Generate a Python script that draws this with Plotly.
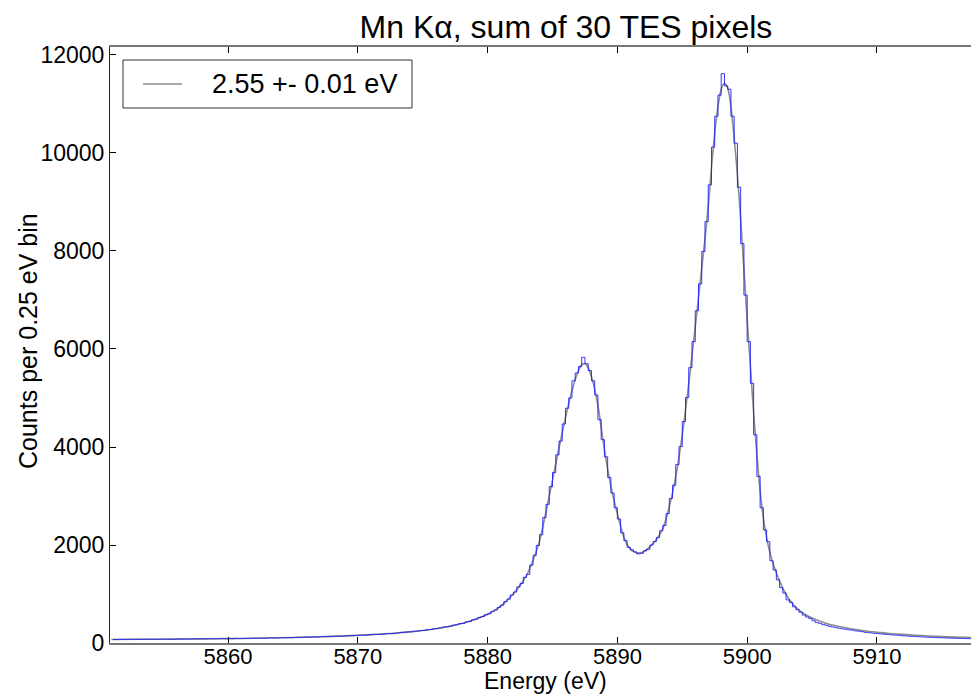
import plotly.graph_objects as go

# ---- data ----
bin_start = 5851.0   # left edge of first 0.25 eV bin
bin_width = 0.25
hist_counts = [
    74, 71, 76, 73,   72, 77, 75, 73,   78, 74, 76, 79,   75, 79, 77, 80,      # 5851-5854
    81, 78, 80, 77,   83, 80, 84, 81,   82, 86, 84, 83,   87, 84, 88, 86,      # 5855-5858
    86, 90, 89, 87,   92, 89, 94, 91,   93, 96, 94, 98,   99, 96, 101, 98,     # 5859-5862
    102, 105, 101, 106, 108, 105, 110, 107, 112, 116, 114, 118, 121, 119, 124, 120,  # 5863-5866
    127, 132, 129, 134, 136, 140, 137, 142, 145, 150, 148, 153, 157, 162, 160, 166,  # 5867-5870
    171, 176, 174, 180, 187, 193, 190, 198, 206, 216, 218, 227, 229, 240, 243, 255,  # 5871-5874
    257, 272, 275, 290, 295, 308, 325, 330, 342, 365, 372, 395, 400, 428, 440, 470,  # 5875-5878
    485, 522, 540, 578, 595, 645, 672, 728, 772, 845, 895, 980, 1040, 1145, 1215, 1340,  # 5879-5882
    1400, 1590, 1790, 1990, 2210, 2560, 2830, 3190, 3480, 3840, 4120, 4470, 4790, 5000, 5350, 5510,  # 5883-5886
    5640, 5830, 5700, 5560, 5350, 5060, 4560, 4150, 3800, 3380, 3060, 2760, 2530, 2250, 2090, 1950,  # 5887-5890
    1900, 1860, 1820, 1830, 1880, 1910, 2000, 2070, 2150, 2290, 2400, 2640, 2950, 3220, 3640, 4010,  # 5891-5894
    4520, 5010, 5620, 6150, 6780, 7330, 7990, 8600, 9350, 10120, 10750, 11180, 11620, 11370, 11300, 10750,  # 5895-5898
    10200, 9300, 8150, 7100, 6150, 5300, 4250, 3400, 2760, 2310, 2070, 1680, 1490, 1290, 1130, 1020,  # 5899-5902
    880, 830, 740, 680, 625, 570, 530, 500, 455, 420, 400, 375, 362, 340, 326, 312,  # 5903-5906
    300, 288, 279, 268, 262, 248, 240, 231, 218, 210, 204, 196, 190, 185, 178, 172,  # 5907-5910
    166, 162, 158, 152, 146, 142, 137, 133, 129, 126, 122, 119, 116, 113, 111, 108,  # 5911-5914
    105, 103, 100, 98, 96, 94, 92, 90, 89, 87,                                       # 5915-5917
]
bin_centers = [bin_start + bin_width * (i + 0.5) for i in range(len(hist_counts))]

fit_energy = [
    5851, 5853, 5855, 5857, 5859, 5861, 5863, 5865, 5867, 5869,
    5870, 5871, 5872, 5873, 5874, 5875, 5876, 5877, 5878, 5879,
    5880, 5880.5, 5881, 5881.5, 5882, 5882.5, 5883, 5883.5, 5884, 5884.5,
    5885, 5885.5, 5886, 5886.5, 5887, 5887.25, 5887.5, 5887.75, 5888, 5888.25,
    5888.5, 5888.75, 5889, 5889.25, 5889.5, 5889.75, 5890, 5890.25, 5890.5, 5890.75,
    5891, 5891.25, 5891.5, 5891.75, 5892, 5892.5, 5893, 5893.5, 5894, 5894.5,
    5895, 5895.5, 5896, 5896.5, 5896.75, 5897, 5897.25, 5897.5, 5897.75, 5898,
    5898.25, 5898.5, 5898.75, 5899, 5899.25, 5899.5, 5899.75, 5900, 5900.25, 5900.5,
    5900.75, 5901, 5901.25, 5901.5, 5901.75, 5902, 5902.5, 5903, 5903.5, 5904,
    5904.5, 5905, 5906, 5907, 5908, 5909, 5910, 5911, 5912, 5913,
    5914, 5915, 5916, 5917, 5917.5,
]
fit_counts = [
    72, 75, 78, 82, 86, 92, 101, 112, 127, 146,
    158, 170, 186, 205, 228, 256, 292, 338, 398, 478,
    585, 660, 750, 870, 1010, 1180, 1380, 1690, 2080, 2680,
    3330, 3980, 4600, 5150, 5560, 5680, 5700, 5620, 5440, 5180,
    4850, 4400, 3950, 3550, 3200, 2900, 2640, 2380, 2160, 2010,
    1920, 1865, 1840, 1840, 1860, 1960, 2110, 2330, 2780, 3400,
    4250, 5300, 6450, 7650, 8250, 8900, 9700, 10400, 10950, 11300,
    11420, 11330, 10950, 10300, 9550, 8650, 7650, 6600, 5650, 4700,
    3850, 3100, 2550, 2150, 1850, 1620, 1260, 990, 800, 670,
    580, 510, 410, 340, 290, 250, 220, 195, 175, 158,
    143, 130, 120, 114, 111,
]
fit_label = "2.55 +- 0.01 eV"
title_text = "Mn Kα, sum of 30 TES pixels"
x_title = "Energy (eV)"
y_title = "Counts per 0.25 eV bin"
x_ticks = [5860, 5870, 5880, 5890, 5900, 5910]
y_ticks = [0, 2000, 4000, 6000, 8000, 10000, 12000]
y_ticktext = ["0", "2000", "4000", "6000", "8000", "10000", "12000"]

FONT = "Liberation Sans, Arial, Helvetica, sans-serif"
FIT_COLOR = "rgb(140,140,140)"

fig = go.Figure()
fig.add_trace(go.Scatter(
    x=fit_energy, y=fit_counts, mode="lines", line_shape="spline",
    line=dict(color=FIT_COLOR, width=1.6, smoothing=0.8),
    name=fit_label, showlegend=False,
))
fig.add_trace(go.Scatter(
    x=bin_centers, y=hist_counts, mode="lines", line_shape="hvh",
    line=dict(color="rgba(20,20,255,0.85)", width=1), showlegend=False,
))

# plot area in pixels: x 110..971, y 47..643
def px(x):
    return (x - 110) / 861.0

def py(y):
    return (643 - y) / 596.0

shapes = [
    # legend box
    dict(type="rect", xref="paper", yref="paper", x0=px(123), x1=px(412),
         y0=py(108), y1=py(60), line=dict(color="#333", width=1), fillcolor="white",
         layer="above"),
    # legend line sample
    dict(type="line", xref="paper", yref="paper", x0=px(143), x1=px(182),
         y0=py(84), y1=py(84), line=dict(color=FIT_COLOR, width=1.6), layer="above"),
]
annotations = [
    dict(text=fit_label, xref="paper", yref="paper", x=px(210), y=py(84),
         xanchor="left", yanchor="middle", showarrow=False,
         font=dict(size=27, family=FONT, color="black")),
    dict(text=x_title, xref="paper", yref="paper", x=px(545), y=py(681),
         xanchor="center", yanchor="middle", showarrow=False,
         font=dict(size=23, family=FONT, color="black")),
    dict(text=y_title, xref="paper", yref="paper", x=px(28), y=py(341),
         xanchor="center", yanchor="middle", showarrow=False, textangle=-90,
         font=dict(size=25, family=FONT, color="black")),
]

fig.update_layout(
    width=971, height=696,
    margin=dict(l=110, r=0, t=47, b=53),
    paper_bgcolor="white", plot_bgcolor="white",
    font=dict(family=FONT, color="black", size=23),
    title=dict(text=title_text, x=0.5296, xanchor="center",
               xref="paper", y=0.962, yanchor="middle",
               font=dict(size=32, family=FONT, color="black")),
    showlegend=False,
    shapes=shapes,
    annotations=annotations,
    xaxis=dict(range=[5850.9, 5917.25], tickvals=x_ticks, ticks="inside",
               ticklen=6, tickcolor="black", showline=True, linecolor="#777",
               linewidth=2, mirror="ticks", showgrid=False, zeroline=False,
               tickfont=dict(size=22), ticklabelstandoff=-7),
    yaxis=dict(range=[0, 12163], tickvals=y_ticks, ticktext=y_ticktext,
               ticks="inside", ticklen=6, tickcolor="black", showline=True,
               linecolor="#222", linewidth=1, mirror=False, showgrid=False,
               zeroline=False, tickfont=dict(size=23)),
)

fig.write_html("out.html")
